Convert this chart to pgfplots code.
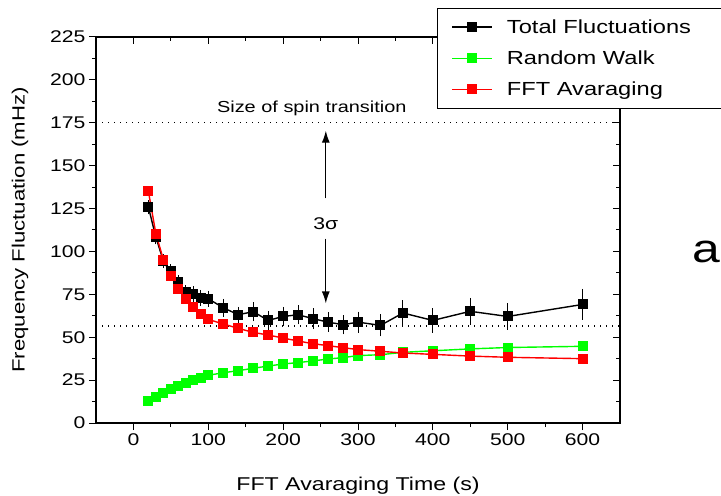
\documentclass[border=0pt]{standalone}
\usepackage{fontspec}
\setmainfont[FakeStretch=1.25]{Liberation Sans}
\newfontfamily\ylfont{Liberation Sans}
\usepackage{graphicx}
\usepackage{pgfplots}
\usepackage{pgfplotstable}
\pgfplotsset{compat=1.18}
\usetikzlibrary{arrows.meta}
\newcommand{\fs}[1]{\fontsize{#1}{#1}\selectfont}

% x = averaging time (s), y = fluctuation (mHz), e = error
\pgfplotstableread{
x y e
20 125.8 1.5
30 108.3 1.5
40 94.4 1.5
50 88.4 1.5
60 82.1 1.5
70 76.3 1.5
80 75.0 2
90 73.0 2
100 72.4 2
120 67.2 2.5
140 63.1 2
160 64.9 3
180 59.8 3
200 62.1 3
220 63.1 3
240 60.8 3.5
260 58.8 3
280 57.3 3
300 58.8 3.5
330 56.9 3.8
360 64.1 4.7
400 59.8 4.5
450 65.1 5.2
500 62.1 5.2
600 69.1 6.4
}\total

\pgfplotstableread{
x y
20 12.6
30 15.1
40 17.7
50 19.8
60 21.5
70 23.3
80 25.0
90 26.4
100 27.8
120 29.3
140 30.5
160 31.9
180 33.2
200 34.4
220 35.2
240 36.2
260 37.3
280 38.1
300 39.3
330 39.8
360 41.2
400 42.1
450 43.2
500 44.0
600 44.7
}\walk

\pgfplotstableread{
x y
20 135.1
30 110.3
40 95.3
50 85.6
60 78.3
70 72.4
80 67.9
90 63.7
100 60.4
120 57.7
140 55.2
160 52.8
180 51.3
200 49.5
220 47.8
240 46.2
260 45.1
280 43.9
300 42.8
330 41.8
360 40.8
400 40.0
450 39.0
500 38.3
600 37.5
}\fft

\pgfplotsset{
  frame/.style={
    at={(96bp,73bp)}, anchor=south west,
    width=524bp, height=386bp, scale only axis,
    xmin=-50, xmax=650, ymin=0, ymax=225,
    xtick={0,100,...,600},
    minor xtick={50,150,...,550},
    ytick={0,25,...,225},
    minor ytick={12.5,37.5,...,212.5},
    major tick length=7bp, minor tick length=4bp,
    axis line style={line width=1.3bp},
    tick style={line width=1bp, black},
  }
}

\begin{document}
\begin{tikzpicture}
\useasboundingbox (0,0) rectangle (721bp,496bp);
\clip (0,0) rectangle (721bp,496bp);

% top and right ticks, pointing inward
\begin{axis}[frame, tick align=inside, xtick pos=top, ytick pos=right,
  xticklabels={}, yticklabels={}]
\end{axis}

\begin{axis}[frame, tick align=outside, xtick pos=bottom, ytick pos=left,
  tick label style={font=\fs{17}},
  /pgf/number format/assume math mode=true,
  xlabel={FFT Avaraging Time (s)},
  xlabel style={font=\fs{18.6}, at={(axis description cs:0.5,-0.1736)}, anchor=base},
  ylabel={\scalebox{1.25}[1]{\ylfont\fs{17.8}Frequency Fluctuation (mHz)}},
  ylabel style={at={(axis description cs:-0.145,0.5)}, anchor=center},
  legend style={at={(0.6508,1.0751)}, anchor=north west, draw=black,
    line width=1bp, fill=white, font=\fs{19},
    inner xsep=14bp, inner ysep=9bp, row sep=12bp,
    /tikz/every odd column/.append style={column sep=12bp}},
  legend cell align=left,
  legend image code/.code={\draw[mark repeat=2, mark phase=2, #1]
    plot coordinates {(0bp,0bp) (20bp,0bp) (40bp,0bp)};},
]
\addplot[black, dotted, line width=1.2bp, dash pattern=on 1.2bp off 4.8bp, forget plot]
  coordinates {(-50,175) (650,175)};
\addplot[black, dotted, line width=1.2bp, dash pattern=on 1.2bp off 4.8bp, forget plot]
  coordinates {(-50,56.5) (650,56.5)};

\addplot[black, line width=1.4bp, mark=square*, mark size=4.3bp,
  mark options={solid},
  error bars/.cd, y dir=both, y explicit,
  error bar style={line width=1bp},
  error mark options={black, line width=1bp, mark size=4.5bp}]
  table[x=x, y=y, y error=e] {\total};
\addlegendentry{Total Fluctuations\hspace*{14bp}}

\addplot[green, line width=1.4bp, mark=square*, mark size=4.3bp,
  mark options={solid}]
  table[x=x, y=y] {\walk};
\addlegendentry{Random Walk}

\addplot[red, line width=1.4bp, mark=square*, mark size=4.3bp,
  mark options={solid}]
  table[x=x, y=y] {\fft};
\addlegendentry{FFT Avaraging}

\node[anchor=base east, font=\fs{16}, inner sep=0] at (axis cs:365,181.1) {Size of spin transition};
\node[anchor=base, font=\fs{17}, inner sep=0] at (axis cs:257,112.8) {3σ};
\draw[-{Latex[length=12bp,width=8bp]}, line width=1.2bp] (axis cs:257,131) -- (axis cs:257,170.4);
\draw[-{Latex[length=12bp,width=8bp]}, line width=1.2bp] (axis cs:257,107.4) -- (axis cs:257,69.7);
\end{axis}

\node[anchor=base east, inner sep=0, font=\fs{40}] at (720bp,233bp) {a};
\end{tikzpicture}
\end{document}
